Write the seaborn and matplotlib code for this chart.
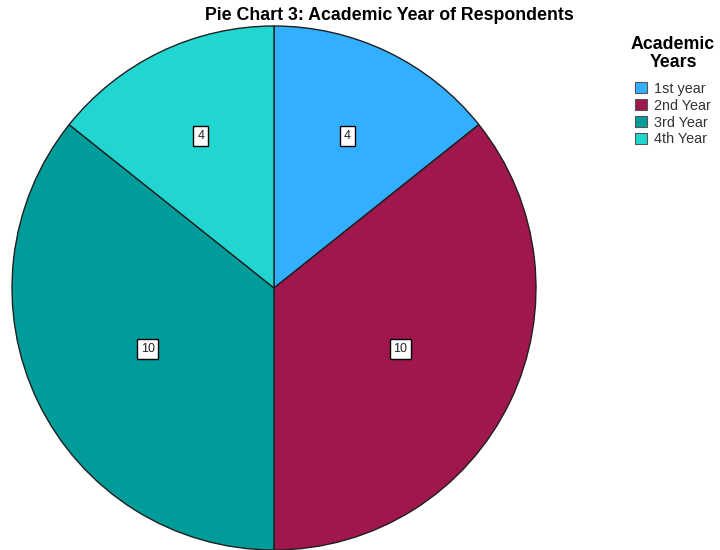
import numpy as np
import matplotlib
matplotlib.use("Agg")
import matplotlib.pyplot as plt
from matplotlib.patches import Patch
import seaborn as sns

# Academic year of respondents
years = ["1st year", "2nd Year", "3rd Year", "4th Year"]
counts = [4, 10, 10, 4]
hex_colors = ["#33AFFF", "#A0174E", "#009C99", "#21D6D0"]

sns.set_style("white")
plt.rcParams["font.family"] = ["Liberation Sans", "DejaVu Sans"]
palette = sns.color_palette(hex_colors)

fig = plt.figure(figsize=(7.2, 5.5), dpi=100)
ax = fig.add_axes([12 / 720, 0.0, 524 / 720, 524 / 550])

wedges, _ = ax.pie(
    counts,
    colors=palette,
    startangle=90,
    counterclock=False,
    radius=1.0,
    wedgeprops=dict(edgecolor="#1f1f1f", linewidth=1.0),
)
ax.set_xlim(-1, 1)
ax.set_ylim(-1, 1)
ax.set_aspect("equal")

# Value labels placed at each sector's centroid
for w, n in zip(wedges, counts):
    t1, t2 = np.deg2rad(w.theta1), np.deg2rad(w.theta2)
    half = abs(t2 - t1) / 2
    mid = (t1 + t2) / 2
    d = 2 * np.sin(half) / (3 * half)
    ax.text(d * np.cos(mid), d * np.sin(mid), str(n), ha="center", va="center",
            fontsize=9, color="#222222",
            bbox=dict(boxstyle="square,pad=0.3", facecolor="white",
                      edgecolor="black", linewidth=1.0))

fig.text(389 / 720, 1 - 15 / 550, "Pie Chart 3: Academic Year of Respondents",
         ha="center", va="center", fontsize=12.8, fontweight="bold", color="black")

handles = [Patch(facecolor=c, edgecolor="#555555", linewidth=0.8) for c in palette]
leg = fig.legend(handles, years, title="Academic\nYears", loc="upper left",
                 bbox_to_anchor=(631 / 720, 1 - 36 / 550), frameon=False,
                 fontsize=10.4, title_fontproperties=dict(weight="bold", size=12.8),
                 handlelength=0.83, handleheight=0.83, handletextpad=0.45,
                 labelspacing=0.2, borderaxespad=0, borderpad=0)
title = leg.get_title()
title.set_multialignment("center")
title.set_linespacing(1.05)
title.set_color("black")
leg._legend_box.sep = 8
for t in leg.get_texts():
    t.set_color("#333333")

fig.savefig("out.png", dpi=100)
